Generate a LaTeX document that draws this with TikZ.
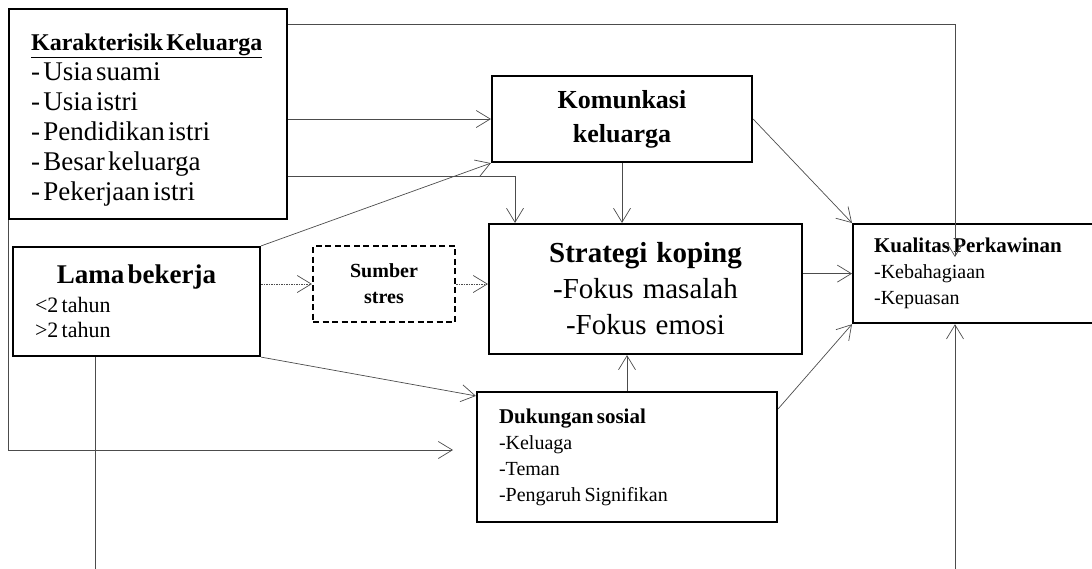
\documentclass[tikz,border=0pt]{standalone}
\usepackage{fontspec}
\setmainfont[WordSpace=1.25]{Liberation Serif}
\usetikzlibrary{arrows.meta}

\begin{document}
\begin{tikzpicture}[x=1pt, y=-1pt,
    box/.style={draw, line width=2.2pt, inner ysep=0pt, inner xsep=22pt},
    conn/.style={draw=black!70, line width=0.7pt, -{Straight Barb[length=14pt,width=17pt]}},
    dots/.style={conn, dash pattern=on 1.5pt off 1pt}]
    \useasboundingbox (0,0) rectangle (1092,568);
    \clip (0,0) rectangle (1092,568);

    \node[box, anchor=north west, text width=234pt, minimum height=210pt] (kar) at (8,8)
        {\raggedright\fontsize{24}{30}\selectfont\bfseries\rule{0pt}{28pt}\underline{Karakterisik Keluarga}\par
         \mdseries\fontsize{27}{30}\selectfont - Usia suami\par - Usia istri\par - Pendidikan istri\par
         - Besar keluarga\par - Pekerjaan istri\par};
    \node[box, minimum width=260pt, minimum height=86pt, align=center,
        font=\fontsize{26}{34}\selectfont\bfseries] (kom) at (622,119) {Komunkasi\\keluarga};
    \node[box, text width=203pt, minimum height=109pt] (lama) at (136.5,301.5)
        {\centering\fontsize{27}{30}\selectfont\bfseries Lama bekerja\par\vspace{4pt}
         \raggedright\mdseries\fontsize{22}{25}\selectfont <2 tahun\par >2 tahun\par};
    \node[box, dash pattern=on 6pt off 3.5pt, minimum width=142pt, minimum height=76pt, align=center,
        font=\fontsize{20}{26}\selectfont\bfseries] (sumber) at (384,284) {Sumber\\stres};
    \node[box, minimum width=313pt, minimum height=130pt, align=center,
        font=\fontsize{29}{36}\selectfont] (strat) at (645.5,289)
        {\textbf{Strategi koping}\\-Fokus masalah\\-Fokus emosi};
    \node[box, anchor=north west, inner xsep=21pt, text width=206pt, minimum height=99pt] (kual) at (852,223)
        {\raggedright\fontsize{21}{26}\selectfont\bfseries Kualitas Perkawinan\par
         \mdseries\fontsize{20}{26}\selectfont -Kebahagiaan\par -Kepuasan\par};
    \node[box, text width=256pt, minimum height=130pt] (duk) at (627,457)
        {\raggedright\fontsize{21}{26}\selectfont\bfseries Dukungan sosial\par
         \mdseries\fontsize{20}{26}\selectfont -Keluaga\par -Teman\par -Pengaruh Signifikan\par};

    \coordinate (kTop) at (955,24);
    \coordinate (kIn) at (955,257);
    \coordinate (kBend) at (515,176);
    \coordinate (dIn) at (453,450);
    \coordinate (lDown) at (95,600);

    \draw[conn] (kar.east |- kTop) -- (kTop) -- (kIn);
    \draw[conn] (kar.east |- kom.west) -- (kom.west);
    \draw[conn] (kar.east |- kBend) -| (strat.north -| kBend);
    \draw[conn] (kar.south west) |- (dIn);
    \draw[conn] (lama.north east) -- (kom.south west);
    \draw[dots] (lama.east |- sumber.west) -- (sumber.west);
    \draw[dots] (sumber.east) -- (strat.west |- sumber.east);
    \draw[conn] (lama.south east) -- ([yshift=-5pt]duk.north west);
    \draw[conn] (lDown |- lama.south) -- (lDown) -| (kual.south -| kIn);
    \draw[conn] (kom.south) -- (strat.north -| kom.south);
    \draw[conn] (kom.east) -- (kual.north west);
    \draw[conn] (strat.east |- kual.west) -- (kual.west);
    \draw[conn] (duk.north) -- (strat.south -| duk.north);
    \draw[conn] ([yshift=-18pt]duk.north east) -- (kual.south west);
\end{tikzpicture}
\end{document}
